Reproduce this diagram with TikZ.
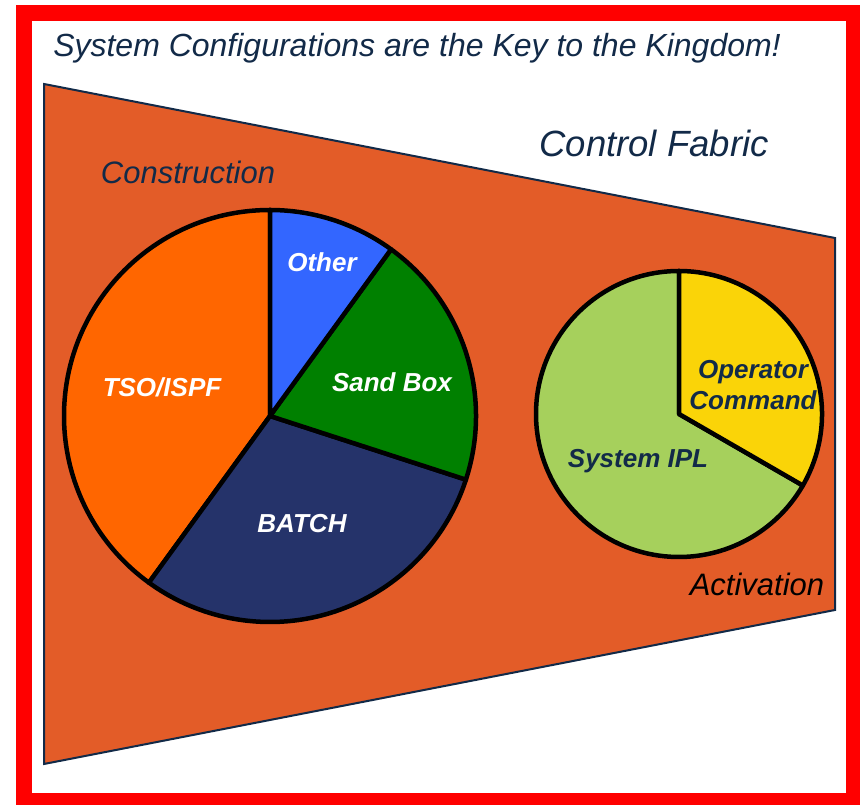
\documentclass[tikz,border=0pt]{standalone}
\usepackage{fontspec}
\setmainfont{Liberation Sans}
\definecolor{fabric}{RGB}{227,92,40}
\definecolor{navytext}{RGB}{18,42,72}
\definecolor{tsoorange}{RGB}{255,102,0}
\definecolor{otherblue}{RGB}{51,102,255}
\definecolor{sandgreen}{RGB}{0,128,0}
\definecolor{batchnavy}{RGB}{37,51,106}
\definecolor{iplgreen}{RGB}{166,208,92}
\definecolor{cmdyellow}{RGB}{250,212,8}
\definecolor{framered}{RGB}{255,0,0}

\begin{document}
\begin{tikzpicture}[x=1pt, y=1pt,
        slice/.style={draw=black, line width=4.5pt, line join=round},
        pielabel/.style={font=\fontsize{26}{31}\selectfont\bfseries\itshape, anchor=base, inner sep=0pt},
        fabriclabel/.style={font=\fontsize{31}{37}\selectfont\itshape, text=navytext, anchor=base, inner sep=0pt}]
        \useasboundingbox (0,0) rectangle (860,805);
        \fill[framered] (16,0) rectangle (860,800);
        \fill[white] (32,12) rectangle (846,784);
        \node[fabriclabel, font=\fontsize{32}{38}\selectfont\itshape] (title) at (417,748) {System Configurations are the Key to the Kingdom!};
        \draw[navytext, line width=2pt, fill=fabric] (44,721) -- (835,567) -- (835,195) -- (44,41) -- cycle;
        \node[fabriclabel, font=\fontsize{36.5}{43}\selectfont\itshape] (fabrictitle) at (654,648) {Control Fabric};
        \node[fabriclabel] (construction) at (188,621) {Construction};
        \node[fabriclabel, text=black] (activation) at (757,209) {Activation};
        % construction pie
        \coordinate (bigpie) at (270,389);
        \filldraw[slice, fill=tsoorange] (bigpie) -- ++(90:206) arc[start angle=90, end angle=234, radius=206pt] -- cycle;
        \filldraw[slice, fill=batchnavy] (bigpie) -- ++(234:206) arc[start angle=234, end angle=342, radius=206pt] -- cycle;
        \filldraw[slice, fill=sandgreen] (bigpie) -- ++(-18:206) arc[start angle=-18, end angle=54, radius=206pt] -- cycle;
        \filldraw[slice, fill=otherblue] (bigpie) -- ++(54:206) arc[start angle=54, end angle=90, radius=206pt] -- cycle;
        \node[pielabel, text=white] (other) at (322,533) {Other};
        \node[pielabel, text=white] (sandbox) at (392,413) {Sand Box};
        \node[pielabel, text=white] (tso) at (162,408) {TSO/ISPF};
        \node[pielabel, text=white] (batch) at (302,272) {BATCH};
        % activation pie
        \coordinate (smallpie) at (679,391);
        \filldraw[slice, fill=iplgreen] (smallpie) -- ++(90:143) arc[start angle=90, end angle=330, radius=143pt] -- cycle;
        \filldraw[slice, fill=cmdyellow] (smallpie) -- ++(-30:143) arc[start angle=-30, end angle=90, radius=143pt] -- cycle;
        \node[pielabel, text=navytext, anchor=center, align=center] (opcommand) at (753,420) {Operator\\Command};
        \node[pielabel, text=navytext] (systemipl) at (638,337) {System IPL};
    \end{tikzpicture}
\end{document}
